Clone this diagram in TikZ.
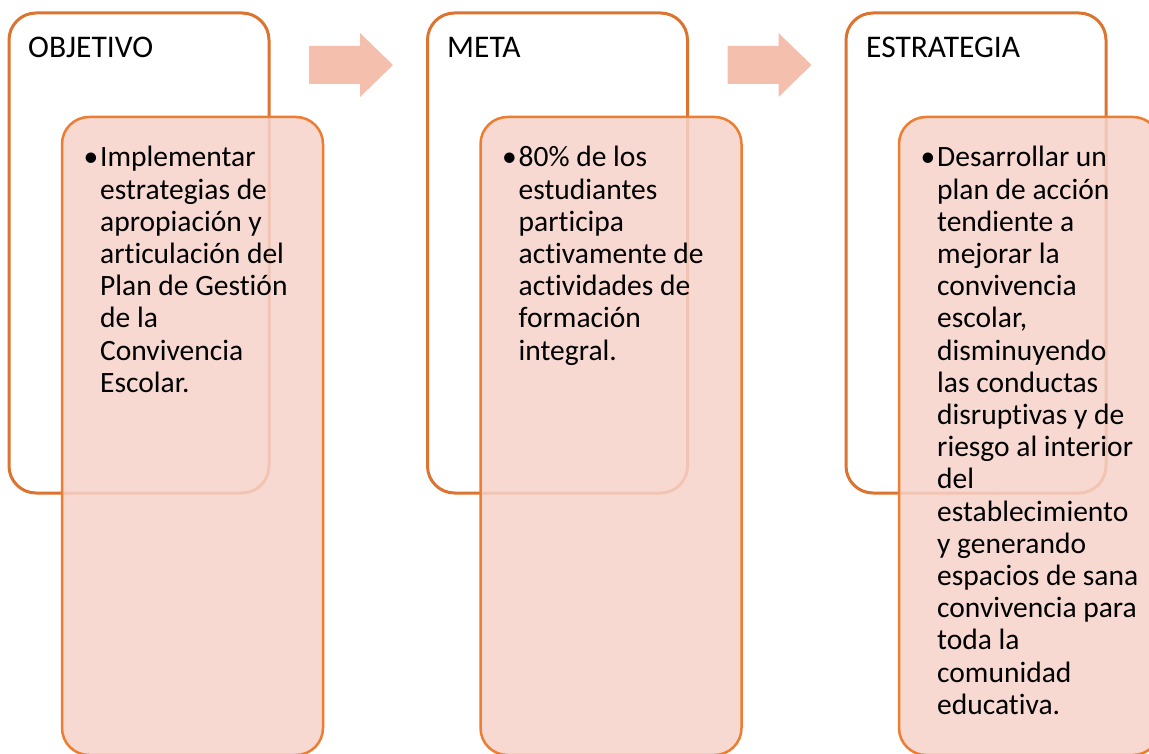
\documentclass[tikz,border=0pt]{standalone}
\usepackage{fontspec}
\setmainfont{Carlito}[Ligatures=NoCommon]
\usepackage{tikz}
\definecolor{box edge}{HTML}{DC7430}
\definecolor{item edge}{HTML}{ED7D31}
\definecolor{item area}{RGB}{246,211,202}
\definecolor{arrow area}{HTML}{F4BFAD}
\def\blockarrow{-- ++(51,0) -- ++(0,-13) -- ++(33,32) -- ++(-33,32) -- ++(0,-13) -- ++(-51,0) -- cycle}
\tikzset{outer/.style={draw=box edge, line width=3pt, rounded corners=27pt,
		minimum width=260pt, minimum height=480pt, inner sep=0pt},
	inner/.style={draw=item edge, line width=2.5pt, rounded corners=27pt, fill=item area,
		fill opacity=0.85, minimum width=261pt, minimum height=638pt, inner sep=0pt},
	heading/.style={anchor=base west, inner sep=0pt, font=\fontsize{31.5pt}{37pt}\selectfont},
	items/.style={anchor=base west, inner sep=0pt, font=\fontsize{29.5pt}{32.2pt}\selectfont}}
\newcommand{\itemtext}[1]{\parbox[t]{240pt}{\raggedright\leavevmode\llap{\textbullet\hspace{2pt}}#1}}

\begin{document}
\begin{tikzpicture}[x=1pt, y=-1pt]
		\clip (0,0) rectangle (1149,754);
		\fill[white] (0,0) rectangle (1149,754);
		% objetivo
		\node[outer] (objbox) at (139,253) {};
		\node[inner] (objitem) at (192.5,436) {};
		\node[heading] (objtitle) at (28,58) {OBJETIVO};
		\node[items] (objtext) at (100,167) {\itemtext{Implementar\\ estrategias de\\ apropiación y\\ articulación del\\ Plan de Gestión\\ de la\\ Convivencia\\ Escolar.}};
		\fill[arrow area] (309,46) \blockarrow;
		
		% meta
		\node[outer] (metabox) at (557.5,253) {};
		\node[inner] (metaitem) at (611,436) {};
		\node[heading] (metatitle) at (447,58) {META};
		\node[items] (metatext) at (518.5,167) {\itemtext{80\% de los\\ estudiantes\\ participa\\ activamente de\\ actividades de\\ formación\\ integral.}};
		\fill[arrow area] (727.5,46) \blockarrow;
		
		% estrategia
		\node[outer] (estbox) at (976,253) {};
		\node[inner] (estitem) at (1029.5,436) {};
		\node[heading] (esttitle) at (866,58) {ESTRATEGIA};
		\node[items] (esttext) at (937,167) {\itemtext{Desarrollar un\\ plan de acción\\ tendiente a\\ mejorar la\\ convivencia\\ escolar,\\ disminuyendo\\ las conductas\\ disruptivas y de\\ riesgo al interior\\ del\\ establecimiento\\ y generando\\ espacios de sana\\ convivencia para\\ toda la\\ comunidad\\ educativa.}};
		\end{tikzpicture}
\end{document}
